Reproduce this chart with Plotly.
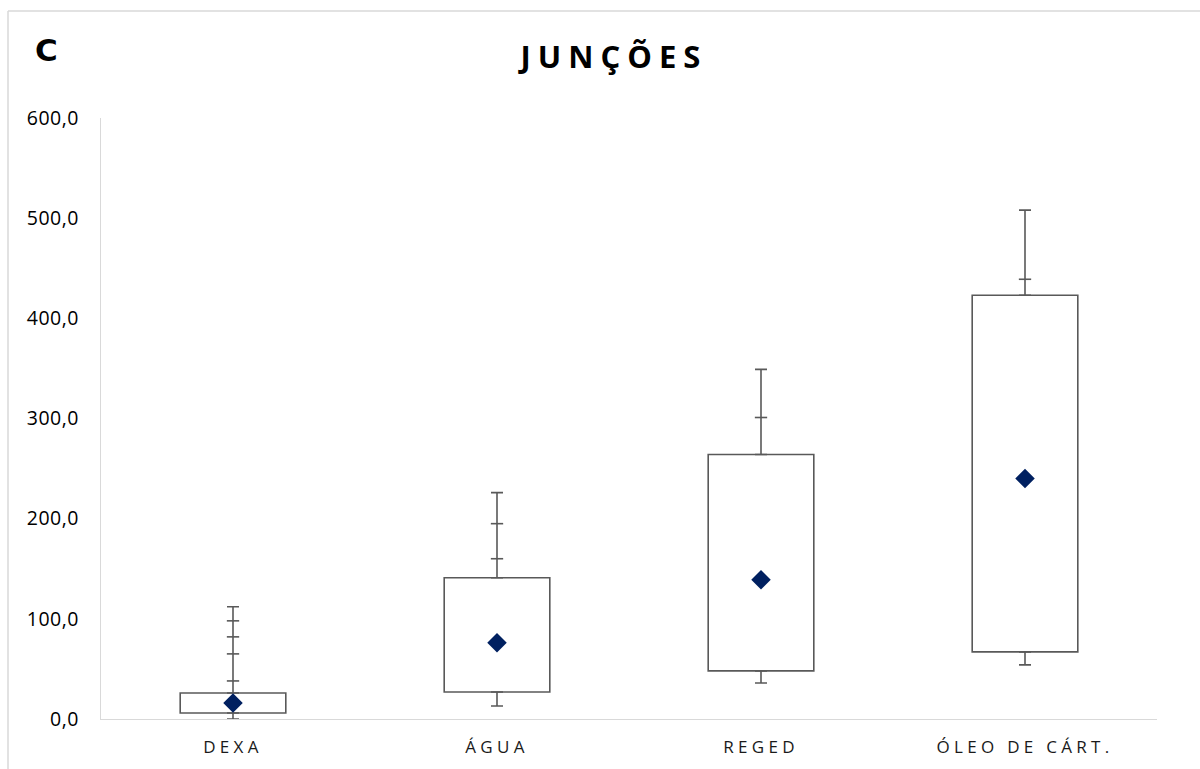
import plotly.graph_objects as go

categories = ["DEXA", "ÁGUA", "REGED", "ÓLEO DE CÁRT."]
box_low = [6, 27, 48, 67]
box_high = [26, 141, 264, 423]
whisker_min = [0, 13, 36, 54]
whisker_max = [112, 226, 349, 508]
means = [16, 76, 139, 240]
# intermediate tick marks along the upper whiskers
tick_cat = ["DEXA", "DEXA", "DEXA", "DEXA", "ÁGUA", "ÁGUA", "REGED", "ÓLEO DE CÁRT."]
tick_val = [38, 65, 82, 98, 160, 195, 301, 439]

y_ticks = [0, 100, 200, 300, 400, 500, 600]

GRAY = "#595959"
NAVY = "#002060"
AXIS = "#d9d9d9"
FONT = "Open Sans"
CFONT = "DejaVu Sans"

fig = go.Figure()

# upper whiskers
fig.add_trace(go.Scatter(
    x=categories, y=box_high, mode="markers",
    marker=dict(size=1, color="rgba(0,0,0,0)"),
    error_y=dict(type="data", symmetric=False,
                 array=[t - h for t, h in zip(whisker_max, box_high)],
                 arrayminus=[0] * 4, color=GRAY, thickness=1.6, width=6),
    hoverinfo="skip", showlegend=False))
# lower whiskers
fig.add_trace(go.Scatter(
    x=categories, y=box_low, mode="markers",
    marker=dict(size=1, color="rgba(0,0,0,0)"),
    error_y=dict(type="data", symmetric=False,
                 array=[0] * 4,
                 arrayminus=[l - m for l, m in zip(box_low, whisker_min)],
                 color=GRAY, thickness=1.6, width=6),
    hoverinfo="skip", showlegend=False))
# intermediate ticks
fig.add_trace(go.Scatter(
    x=tick_cat, y=tick_val, mode="markers",
    marker=dict(symbol="line-ew", size=8.8, color=GRAY,
                line=dict(color=GRAY, width=1.6)),
    hoverinfo="skip", showlegend=False))
# boxes
fig.add_trace(go.Bar(
    x=categories, base=box_low,
    y=[h - l for h, l in zip(box_high, box_low)],
    width=0.4,
    marker=dict(color="white", line=dict(color=GRAY, width=1.6)),
    showlegend=False))
# means
fig.add_trace(go.Scatter(
    x=categories, y=means, mode="markers",
    marker=dict(symbol="diamond", size=15, color=NAVY),
    showlegend=False))

W, H = 1200, 769
L, R, T, B = 101, 43, 118, 50
pw, ph = W - L - R, H - T - B

def px_x(px):
    return (px - L) / pw

def px_y(py):
    return (H - B - py) / ph

fig.update_layout(
    width=W, height=H,
    margin=dict(l=L, r=R, t=T, b=B),
    paper_bgcolor="white", plot_bgcolor="white",
    separators=",.",
    font=dict(family=FONT, color="#000000"),
    title=dict(text="<b>JUNÇÕES</b>", x=px_x(614), xref="paper", xanchor="center",
               y=1 - 57.5 / H, yref="container", yanchor="middle",
               font=dict(family=FONT, size=31, color="#000000")),
    barmode="overlay",
    xaxis=dict(type="category", range=[-0.5, 3.5], showline=True, linecolor=AXIS,
               linewidth=1.3, showgrid=False, ticks="", zeroline=False,
               tickfont=dict(family=FONT, size=17, color="#1a1a1a"),
               ticklabelstandoff=12),
    yaxis=dict(range=[0, 600], tickvals=y_ticks, tickformat=".1f",
               showline=True, linecolor=AXIS, linewidth=1.3, showgrid=False,
               zeroline=False, ticks="",
               tickfont=dict(family=FONT, size=19.5, color="#000000"),
               ticklabelstandoff=17),
    annotations=[dict(text="<b>C</b>", x=px_x(46), y=px_y(50), xref="paper", yref="paper",
                      showarrow=False, xanchor="center", yanchor="middle",
                      font=dict(family=CFONT, size=31, color="#000000"))],
    shapes=[
        dict(type="line", xref="paper", yref="paper", x0=px_x(8), x1=px_x(8),
             y0=px_y(800), y1=px_y(11), line=dict(color=AXIS, width=1.5), layer="below"),
        dict(type="line", xref="paper", yref="paper", x0=px_x(8), x1=px_x(1220),
             y0=px_y(11), y1=px_y(11), line=dict(color=AXIS, width=1.5), layer="below"),
    ],
)

post = """
document.body.style.margin='0';
var gd = document.getElementById('{plot_id}');
gd.querySelectorAll('.xtick text').forEach(function(t){t.style.letterSpacing='4.3px';});
gd.querySelectorAll('.ytick text').forEach(function(t){t.style.letterSpacing='0.5px';});
gd.querySelectorAll('.gtitle').forEach(function(t){t.style.letterSpacing='7px';});
"""

fig.write_html("out.html", post_script=post, config={"displayModeBar": False})
